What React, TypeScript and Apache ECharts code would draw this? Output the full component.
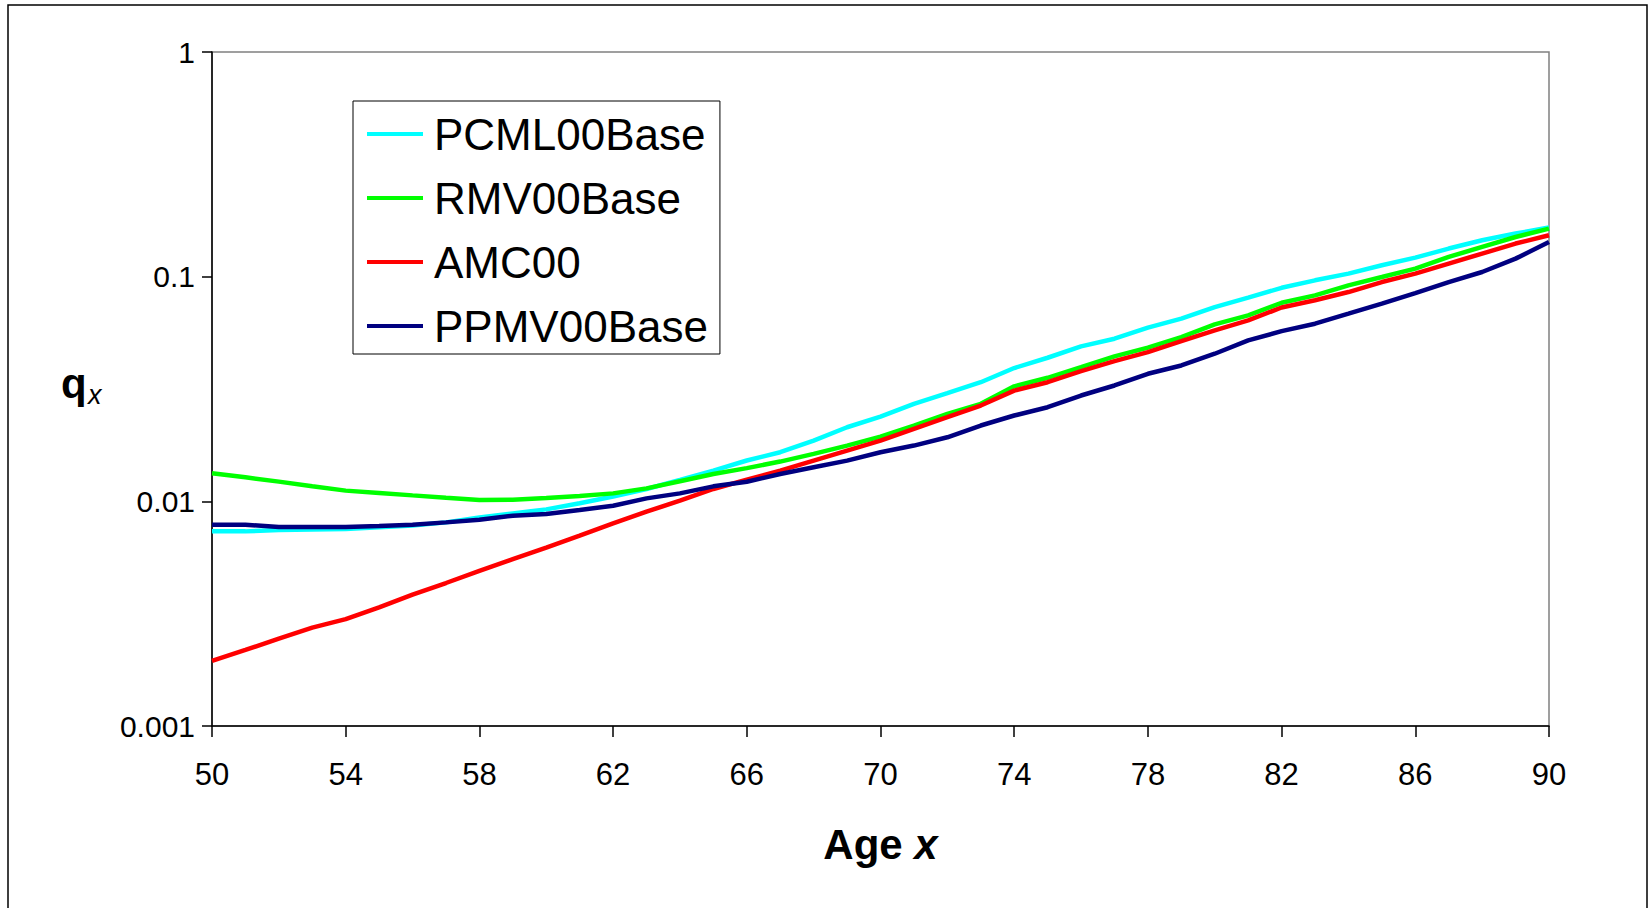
import React, { useEffect, useRef } from "react";
import * as echarts from "echarts";

const AGES = [50, 51, 52, 53, 54, 55, 56, 57, 58, 59, 60, 61, 62, 63, 64, 65, 66, 67, 68, 69, 70,
  71, 72, 73, 74, 75, 76, 77, 78, 79, 80, 81, 82, 83, 84, 85, 86, 87, 88, 89, 90];

const PCML00Base = [0.00735, 0.00735, 0.00746, 0.0075, 0.00753, 0.00766, 0.00781, 0.00806, 0.00848, 0.00884,
  0.00921, 0.0098, 0.0105, 0.01135, 0.01245, 0.0137, 0.0152, 0.01654, 0.01864, 0.02137,
  0.02385, 0.02716, 0.03029, 0.0339, 0.0392, 0.04356, 0.04894, 0.05295, 0.05928, 0.06501,
  0.07321, 0.08065, 0.0892, 0.09632, 0.1032, 0.1124, 0.1216, 0.1334, 0.1452, 0.1556, 0.1654];

const RMV00Base = [0.01333, 0.01279, 0.01224, 0.01166, 0.01116, 0.0109, 0.01063, 0.01038, 0.01015, 0.01017,
  0.01035, 0.01057, 0.01085, 0.01142, 0.01228, 0.01324, 0.01405, 0.01503, 0.01626, 0.01771,
  0.01942, 0.02175, 0.02452, 0.02716, 0.0325, 0.03548, 0.03955, 0.04415, 0.04829, 0.05383,
  0.06131, 0.06724, 0.0765, 0.08259, 0.09149, 0.09963, 0.1086, 0.1224, 0.1356, 0.1502, 0.1637];

const AMC00 = [0.00195, 0.00218, 0.00245, 0.00274, 0.00299, 0.00337, 0.00384, 0.00433, 0.0049, 0.00553,
  0.00623, 0.00703, 0.00797, 0.00899, 0.01007, 0.01135, 0.0125, 0.0137, 0.01518, 0.01682,
  0.01864, 0.02102, 0.02368, 0.0267, 0.0311, 0.0339, 0.03796, 0.04207, 0.04614, 0.05166,
  0.05766, 0.06389, 0.0729, 0.0785, 0.08541, 0.09465, 0.1032, 0.1144, 0.1267, 0.1404, 0.1529];

const PPMV00Base = [0.00787, 0.00787, 0.00769, 0.00769, 0.00769, 0.00777, 0.00787, 0.00806, 0.00828, 0.00863,
  0.00879, 0.00915, 0.00956, 0.01031, 0.01085, 0.01166, 0.01222, 0.01324, 0.01418, 0.01518,
  0.01654, 0.01771, 0.01928, 0.02175, 0.0241, 0.02623, 0.02958, 0.03278, 0.03696, 0.04025,
  0.04539, 0.05203, 0.0572, 0.06176, 0.06842, 0.07582, 0.08456, 0.09465, 0.1049, 0.1203, 0.1427];

const SERIES_NAMES = ["PCML00Base", "RMV00Base", "AMC00", "PPMV00Base"];
const SERIES_COLORS = ["#00FFFF", "#00FF00", "#FF0000", "#000080"];
const Y_TICK_LABELS = ["0.001", "0.01", "0.1", "1"];

const FONT = "'Liberation Sans', Arial, sans-serif";

export default function App() {
  const ref = useRef<HTMLDivElement>(null);
  useEffect(() => {
    document.body.style.margin = "0";
    const chart = echarts.init(ref.current!, null, { renderer: "svg" });
    const values = [PCML00Base, RMV00Base, AMC00, PPMV00Base];
    chart.setOption({
      animation: false,
      backgroundColor: "#ffffff",
      grid: {
        left: 212, top: 52, width: 1337, height: 674,
        show: true, borderColor: "#808080", borderWidth: 1.5, backgroundColor: "transparent",
      },
      xAxis: {
        type: "value", min: 50, max: 90, interval: 4,
        axisLine: { show: true, lineStyle: { color: "#000", width: 1.5 } },
        axisTick: { show: true, length: 11, lineStyle: { color: "#000", width: 1.5 } },
        axisLabel: { fontSize: 31, color: "#000", fontFamily: FONT, margin: 33 },
        splitLine: { show: false },
        name: "{a|Age }{b|x}",
        nameLocation: "middle",
        nameGap: 97,
        nameTextStyle: {
          rich: {
            a: { fontSize: 42, fontWeight: "bold", fontFamily: FONT, color: "#000" },
            b: { fontSize: 42, fontWeight: "bold", fontStyle: "italic", fontFamily: FONT, color: "#000" },
          },
        },
      },
      yAxis: {
        type: "log", logBase: 10, min: 0.001, max: 1,
        axisLine: { show: true, lineStyle: { color: "#000", width: 1.5 } },
        axisTick: { show: true, length: 10, lineStyle: { color: "#000", width: 1.5 } },
        axisLabel: {
          fontSize: 30, color: "#000", fontFamily: FONT, margin: 17,
          formatter: (v: number) => Y_TICK_LABELS[Math.round(Math.log10(v)) + 3],
        },
        splitLine: { show: false },
        minorTick: { show: false },
      },
      legend: {
        orient: "vertical",
        left: 353, top: 101,
        data: SERIES_NAMES,
        icon: "rect",
        itemWidth: 56, itemHeight: 4, itemGap: 20,
        padding: [11, 12, 6, 14],
        backgroundColor: "#fff", borderColor: "#000", borderWidth: 1,
        textStyle: { fontSize: 44, fontFamily: FONT, color: "#000", padding: [0, 0, 0, 6] },
      },
      series: SERIES_NAMES.map((name, i) => ({
        name,
        type: "line",
        showSymbol: false,
        symbol: "none",
        color: SERIES_COLORS[i],
        lineStyle: { width: 4.5, color: SERIES_COLORS[i] },
        data: AGES.map((a, j) => [a, values[i][j]]),
      })),
      graphic: [
        {
          type: "rect", silent: true,
          shape: { x: 8, y: 5, width: 1639, height: 950 },
          style: { fill: "none", stroke: "#000", lineWidth: 1.5 },
        },
        {
          type: "text", x: 61, y: 383,
          style: { text: "q", fontSize: 42, fontWeight: "bold", fontFamily: FONT, fill: "#000", verticalAlign: "middle" },
        },
        {
          type: "text", x: 88, y: 395,
          style: { text: "x", fontSize: 27, fontStyle: "italic", fontFamily: FONT, fill: "#000", verticalAlign: "middle" },
        },
      ],
    });
    return () => chart.dispose();
  }, []);
  return <div ref={ref} style={{ width: 1652, height: 908 }} />;
}
